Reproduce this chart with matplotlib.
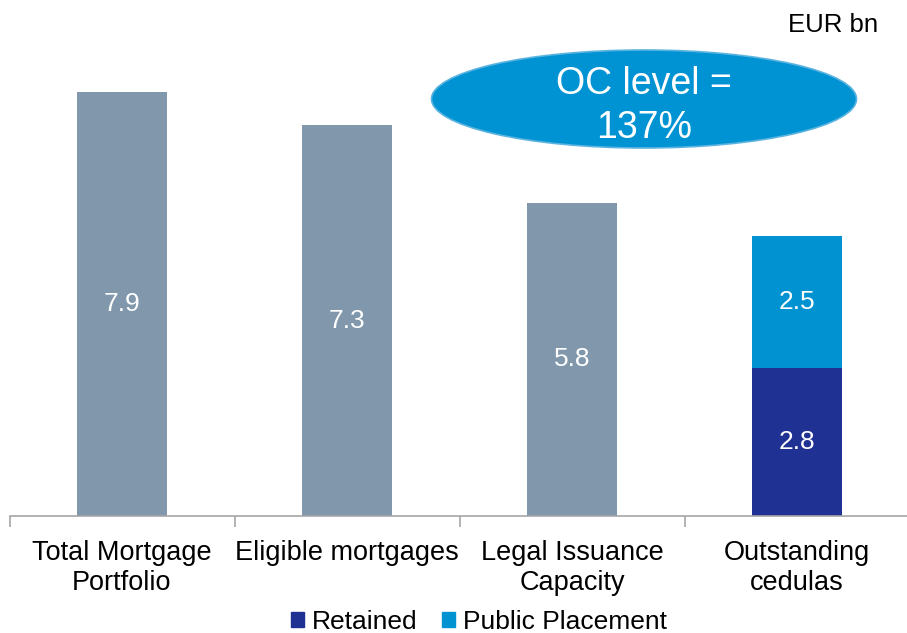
import matplotlib
matplotlib.use('Agg')
import matplotlib.pyplot as plt
from matplotlib.patches import Ellipse, Patch

plt.rcParams['font.family'] = ['Liberation Sans', 'DejaVu Sans']

categories = ['Total Mortgage\nPortfolio', 'Eligible mortgages',
              'Legal Issuance\nCapacity', 'Outstanding\ncedulas']
portfolio_values = [7.91, 7.29, 5.84]
retained = 2.76
public_placement = 2.46
oc_text = 'OC level =\n137%'
unit_text = 'EUR bn'

grey = '#8197AC'
dark_blue = '#1F3193'
light_blue = '#0092D1'

W, H = 907, 633
fig = plt.figure(figsize=(W / 100, H / 100), dpi=100)
ax = fig.add_axes([9.5 / W, (H - 516) / H, 900 / W, 496 / H])

x = list(range(len(categories)))
bw = 0.4
bars = ax.bar(x[:3], portfolio_values, width=bw, color=grey)
b_ret = ax.bar(x[3], retained, width=bw, color=dark_blue, label='Retained')
b_pub = ax.bar(x[3], public_placement, bottom=retained, width=bw,
               color=light_blue, label='Public Placement')

for rects, vals in [(bars, portfolio_values), (b_ret, [retained]), (b_pub, [public_placement])]:
    for r, v in zip(rects, vals):
        ax.text(r.get_x() + r.get_width() / 2, r.get_y() + r.get_height() / 2,
                f'{v:.1f}', ha='center', va='center', color='white', fontsize=19)

ax.set_xlim(-0.5, 3.5)
ax.set_ylim(0, 9.25)
ax.set_yticks([])
for s in ['top', 'right', 'left']:
    ax.spines[s].set_visible(False)
ax.spines['bottom'].set_color('#A6A6A6')
ax.spines['bottom'].set_linewidth(1.2)

ax.set_xticks(x)
ax.set_xticklabels(categories, fontsize=19.5, linespacing=1.2)
ax.tick_params(axis='x', which='major', length=0, pad=17)
ax.set_xticks([i - 0.5 for i in x], minor=True)
ax.tick_params(axis='x', which='minor', length=8, width=1.2, color='#A6A6A6')

fig.legend(handles=[Patch(color=dark_blue, label='Retained'),
                    Patch(color=light_blue, label='Public Placement')],
           loc='center', bbox_to_anchor=(479 / W, 1 - 622 / H), ncol=2,
           frameon=False, fontsize=19, handlelength=0.5, handleheight=0.5,
           handletextpad=0.3, columnspacing=0.9, borderaxespad=0,
           borderpad=0.1)

fig.text(878 / W, 1 - 25 / H, unit_text, ha='right', va='center', fontsize=18.5)

ell = Ellipse((644 / W, 1 - 99 / H), 425 / W, 98 / H, transform=fig.transFigure,
              facecolor='#0093D3', edgecolor='#5BB4E0', linewidth=1.2)
fig.patches.append(ell)
fig.text(644 / W, 1 - 106 / H, oc_text, ha='center', va='center', color='white',
         fontsize=27, linespacing=1.25)

fig.savefig('out.png', dpi=100)
